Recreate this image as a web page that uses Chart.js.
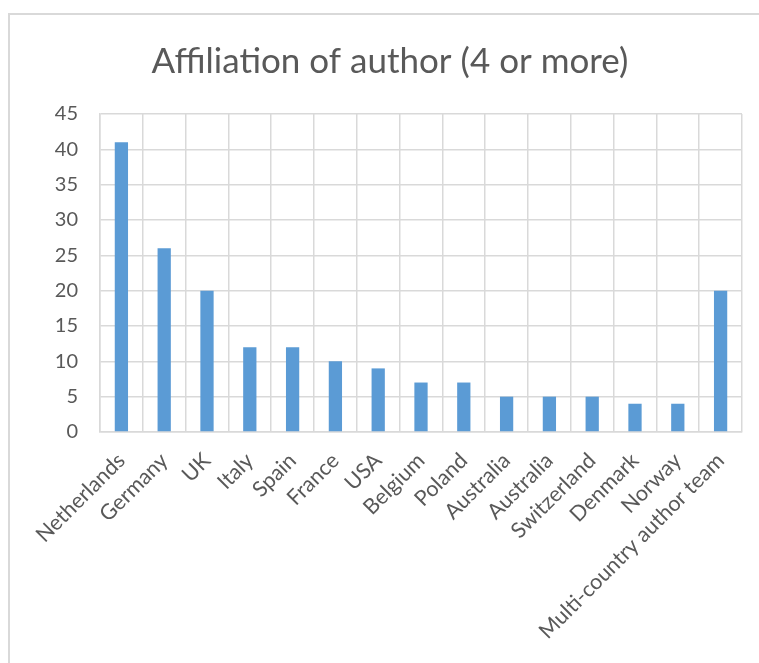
<!DOCTYPE html>
<html>
<head>
<meta charset="utf-8">
<script src="https://cdn.jsdelivr.net/npm/chart.js@4/dist/chart.umd.min.js"></script>
<style>
  body { margin: 0; background: #fff; }
  #frame {
    position: absolute; left: 8px; top: 13px;
    width: 800px; height: 700px;
    border: 2px solid #d9d9d9;
  }
  #wrap { position: absolute; left: 0; top: 0; width: 759px; height: 663px; }
</style>
</head>
<body>
<div id="frame"></div>
<div id="wrap"><canvas id="authorChart"></canvas></div>
<script>
const countries = [
  "Netherlands", "Germany", "UK", "Italy", "Spain", "France", "USA",
  "Belgium", "Poland", "Australia", "Australia", "Switzerland", "Denmark",
  "Norway", "Multi-country author team",
];
const authorCounts = [41, 26, 20, 12, 12, 10, 9, 7, 7, 5, 5, 5, 4, 4, 20];
const yTicks = [0, 5, 10, 15, 20, 25, 30, 35, 40, 45];

const textColor = "#595959";
const gridColor = "#d9d9d9";

// the title in the original sits a bit right of centre
const shiftTitle = {
  id: "shiftTitle",
  afterLayout(chart) {
    if (chart.titleBlock) chart.titleBlock.left = 38;
  },
};

const ctx = document.getElementById("authorChart").getContext("2d");

const authorChart = new Chart(ctx, {
  type: "bar",
  data: {
    labels: countries,
    datasets: [
      {
        data: authorCounts,
        backgroundColor: "#5b9bd5",
        categoryPercentage: 1,
        barPercentage: 0.31,
      },
    ],
  },
  options: {
    responsive: true,
    maintainAspectRatio: false,
    animation: false,
    layout: {
      padding: { left: 0, right: 17, top: 0, bottom: 0 },
    },
    plugins: {
      legend: { display: false },
      tooltip: { enabled: false },
      title: {
        display: true,
        text: "Affiliation of author (4 or more)",
        color: textColor,
        font: { family: "Lato", size: 35, weight: "normal" },
        padding: { top: 41, bottom: 31 },
      },
    },
    scales: {
      x: {
        grid: { color: gridColor, lineWidth: 1.5, drawTicks: false },
        border: { color: gridColor, width: 1.5 },
        ticks: {
          color: textColor,
          font: { family: "Lato", size: 21.5 },
          minRotation: 45,
          maxRotation: 45,
          padding: 16,
          autoSkip: false,
        },
        afterFit(scale) {
          scale.height = 231;
        },
      },
      y: {
        min: 0,
        max: 45,
        grid: { color: gridColor, lineWidth: 1.5, drawTicks: false },
        border: { color: gridColor, width: 1.5 },
        afterBuildTicks(scale) {
          scale.ticks = yTicks.map((v) => ({ value: v }));
        },
        ticks: {
          color: textColor,
          font: { family: "Lato", size: 20 },
          padding: 22,
        },
        afterFit(scale) {
          scale.width = 100;
        },
      },
    },
  },
  plugins: [shiftTitle],
});
</script>
</body>
</html>
